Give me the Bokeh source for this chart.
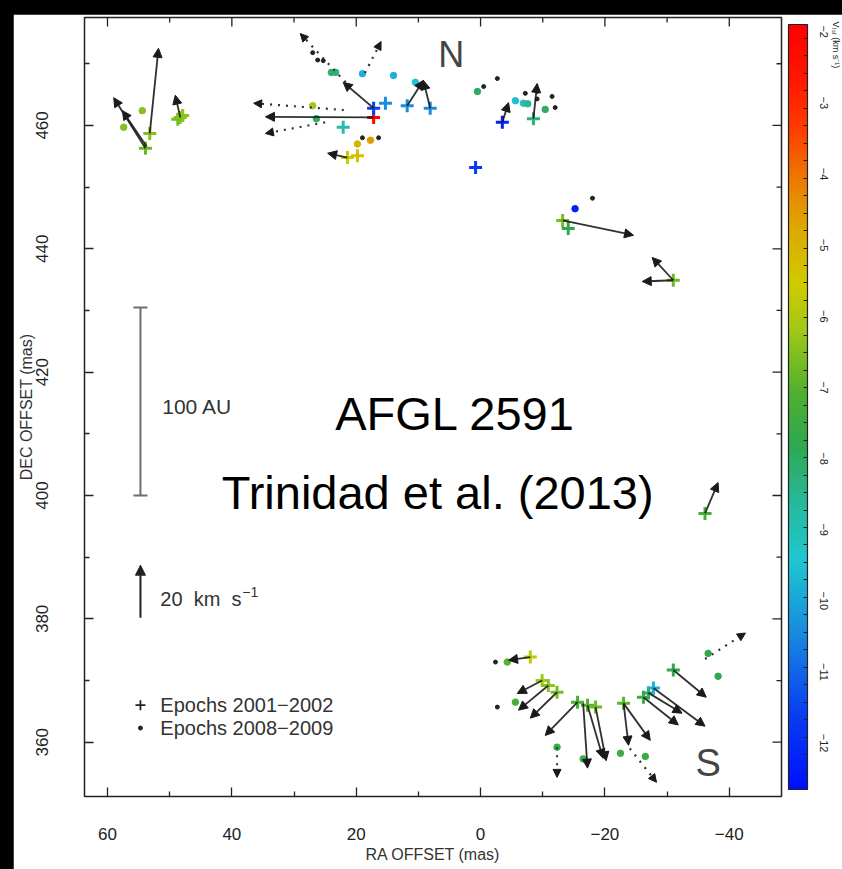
import numpy as np
from bokeh.plotting import figure
from bokeh.models import (Range1d, LinearAxis, FixedTicker, ColorBar,
                          LinearColorMapper, ColumnDataSource, Arrow, NormalHead, Whisker,
                          TeeHead, Label, Title)
from bokeh.layouts import column
from bokeh.embed import file_html
from bokeh.resources import INLINE

# ---------------- data ----------------
# epoch 2001-2002 maser spots (crosses): RA offset, DEC offset (mas), V_LSR (km/s)
cross_ra = [53.9, 53.2, 48.3, 48.7, 47.9,
            17.2, 17.2, 15.3, 11.8, 8.1, 22.1, 21.4, 19.8,
            -3.5, 0.8, -8.5,
            -13.2, -14.1, -31.0, -36.1,
            -8.0, -9.9, -10.9, -12.3, -15.6, -17.2, -18.5,
            -23.0, -26.2, -27.0, -27.8, -31.0]
cross_dec = [456.3, 458.7, 461.3, 461.0, 461.6,
             461.3, 462.8, 463.6, 463.2, 462.8, 459.7, 454.8, 455.1,
             460.5, 453.2, 461.1,
             444.6, 443.3, 434.9, 397.1,
             373.8, 370.0, 369.2, 368.1, 366.5, 366.0, 365.7,
             366.3, 367.3, 368.0, 368.8, 371.7]
cross_v = [-6.8, -6.5, -6.5, -6.6, -6.4,
           -2.0, -11.6, -10.4, -10.4, -10.5, -8.9, -5.6, -5.3,
           -12.4, -11.8, -8.3,
           -6.6, -7.8, -6.7, -7.3,
           -5.8, -6.2, -6.4, -6.6, -7.2, -7.0, -6.7,
           -6.9, -7.5, -8.0, -9.8, -7.8]

# epoch 2008-2009 maser spots (coloured dots)
dot_ra = [54.4, 57.4, 19.0, 14.0, 10.5, 23.3, 24.0, 27.0, 26.4, 19.8, 17.7,
          0.5, -5.6, -6.9, -7.6, -10.4, -15.2,
          -4.3, -5.6, -12.3, -16.5, -22.5, -26.5, -36.6, -38.2]
dot_dec = [462.4, 459.7, 468.4, 468.1, 467.0, 468.6, 468.6, 463.2, 461.1, 457.0, 457.6,
           465.5, 464.0, 463.6, 463.5, 462.6, 446.5,
           373.0, 366.5, 359.2, 357.3, 358.2, 357.7, 374.4, 370.7]
dot_v = [-6.5, -6.5, -9.8, -9.8, -9.5, -8.3, -8.2, -6.2, -8.0, -5.0, -4.5,
         -8.0, -9.6, -9.0, -8.6, -8.0, -12.4,
         -7.0, -7.2, -7.6, -7.5, -7.5, -7.6, -7.8, -7.8]

# small black dots (features without measured motion)
blk_ra = [25.3, 26.2, 27.0, 19.0, 16.4, -0.5, -2.7, -7.2, -11.5, -12.0,
          -9.1, -9.1, 0.8, -18.0, -2.4, -2.7]
blk_dec = [470.5, 470.6, 471.8, 458.0, 458.0, 466.3, 467.6, 465.2, 464.7, 462.9,
           465.5, 464.3, 453.2, 448.2, 373.0, 365.7]

# proper-motion arrows: start (RA, DEC) and end (RA, DEC), mas
pm_ra0 = [53.9, 53.7, 53.2, 48.3, 17.2, 17.2, 11.8, 8.1, 21.4,
          -3.5, -8.5, -13.2, -31.0, -31.0, -36.1,
          -8.0, -9.9, -10.9, -12.3, -15.6, -16.5, -17.2, -18.5,
          -23.0, -23.0, -26.2, -27.0, -27.8, -31.0]
pm_dec0 = [456.3, 456.6, 458.7, 461.3, 461.3, 462.8, 463.2, 462.8, 454.8,
           460.5, 461.1, 444.6, 434.9, 434.9, 397.1,
           373.8, 370.0, 369.2, 368.1, 366.5, 366.3, 366.0, 365.7,
           366.3, 366.3, 367.3, 368.0, 368.8, 371.7]
pm_ra1 = [59.0, 57.6, 51.8, 49.1, 34.6, 22.1, 9.2, 9.2, 24.6,
          -4.5, -9.1, -24.6, -26.0, -27.6, -38.2,
          -4.5, -5.9, -6.1, -8.0, -10.4, -17.2, -19.7, -20.2,
          -23.8, -27.3, -31.8, -32.4, -36.1, -36.3]
pm_dec1 = [464.5, 462.4, 472.5, 464.9, 461.4, 467.0, 467.3, 467.3, 455.5,
           463.7, 466.8, 442.2, 434.7, 438.6, 402.1,
           373.3, 367.9, 365.2, 363.9, 361.1, 355.8, 357.4, 357.0,
           359.5, 360.3, 362.8, 364.7, 362.6, 367.3]

# dotted arrows (motions of faint features)
dm_ra0 = [21.7, 18.6, 22.0, 25.0, -12.3, -24.0, -36.1]
dm_dec0 = [467.0, 468.5, 462.5, 460.5, 359.2, 359.0, 373.5]
dm_ra1 = [29.0, 16.0, 36.5, 34.6, -12.3, -28.3, -42.6]
dm_dec1 = [474.9, 473.6, 463.6, 458.7, 354.3, 353.5, 377.7]

# axes and colour scale
ra_lim = (63.7, -48.4)
dec_lim = (351.2, 477.5)
ra_major = [60, 40, 20, 0, -20, -40]
ra_minor = [50, 30, 10, -10, -30]
dec_major = [360, 380, 400, 420, 440, 460]
dec_minor = [370, 390, 410, 430, 450, 470]
v_low, v_high = -12.75, -1.8
cbar_ticks = [-12, -11, -10, -9, -8, -7, -6, -5, -4, -3, -2]

# scale bar (100 AU) and velocity scale (20 km/s)
bar_ra, bar_dec0, bar_dec1 = 54.7, 400.0, 430.5
vel_ra, vel_dec0, vel_dec1 = 54.7, 380.2, 388.7

# ---------------- style ----------------
anch_f = [0.00, 0.10, 0.20, 0.30, 0.38, 0.45, 0.52, 0.60, 0.66, 0.75, 0.81, 0.87, 0.93, 1.00]
anch_c = ["#0010ff", "#0a40f0", "#1888e0", "#20c8d0", "#28b898", "#30a850", "#50b030",
          "#a0c818", "#d0cc00", "#e0a000", "#f07000", "#ff3a00", "#ff1800", "#ff0000"]


def _rgb(h):
    return [int(h[i:i + 2], 16) for i in (1, 3, 5)]


_arr = np.array([_rgb(c) for c in anch_c], dtype=float)
palette = []
for t in np.linspace(0, 1, 256):
    r = np.interp(t, anch_f, _arr[:, 0])
    g = np.interp(t, anch_f, _arr[:, 1])
    b = np.interp(t, anch_f, _arr[:, 2])
    palette.append("#%02x%02x%02x" % (int(r), int(g), int(b)))

mapper = LinearColorMapper(palette=palette, low=v_low, high=v_high)
TICK_FONT = "Liberation Sans"
TEXT_FONT = "Liberation Sans"
INK = "#222222"

p = figure(frame_width=697, frame_height=779,
           x_range=Range1d(*ra_lim), y_range=Range1d(*dec_lim),
           x_axis_location=None, y_axis_location=None,
           output_backend="svg", toolbar_location=None,
           min_border_left=71, min_border_right=61, min_border_top=3, min_border_bottom=73,
           background_fill_color="white", border_fill_color="white",
           outline_line_color=INK, outline_line_width=1.5,
           margin=(14, 0, 0, 13))
p.grid.grid_line_color = None
p.extra_y_ranges = {"cbar": Range1d(v_low, v_high)}

common = dict(axis_line_color=None,
              major_tick_in=9, major_tick_out=0, minor_tick_in=5, minor_tick_out=0,
              major_tick_line_color=INK, minor_tick_line_color=INK,
              major_tick_line_width=1.3, minor_tick_line_width=1.3,
              major_label_text_font=TICK_FONT, major_label_text_font_size="17px",
              major_label_text_color=INK,
              axis_label_text_font=TICK_FONT, axis_label_text_font_size="16px",
              axis_label_text_font_style="normal", axis_label_text_color="#333333")

xb = LinearAxis(ticker=FixedTicker(ticks=ra_major, minor_ticks=ra_minor),
                axis_label="RA OFFSET (mas)",
                major_label_overrides={-20: "\u221220", -40: "\u221240"},
                major_label_standoff=31, axis_label_standoff=3, **common)
p.add_layout(xb, "below")

yl = LinearAxis(ticker=FixedTicker(ticks=dec_major, minor_ticks=dec_minor),
                axis_label="DEC OFFSET (mas)", major_label_orientation="vertical",
                major_label_standoff=36, axis_label_standoff=-1, **common)
p.add_layout(yl, "left")

# mirrored inward ticks on the top and right edges of the frame
p.ray(x=ra_major, y=[dec_lim[1]] * len(ra_major), length=9, length_units="screen",
      angle=-np.pi / 2, line_color=INK, line_width=1.3)
p.ray(x=ra_minor, y=[dec_lim[1]] * len(ra_minor), length=5, length_units="screen",
      angle=-np.pi / 2, line_color=INK, line_width=1.3)
p.ray(x=[ra_lim[1]] * len(dec_major), y=dec_major, length=9, length_units="screen",
      angle=np.pi, line_color=INK, line_width=1.3)
p.ray(x=[ra_lim[1]] * len(dec_minor), y=dec_minor, length=5, length_units="screen",
      angle=np.pi, line_color=INK, line_width=1.3)

minor_cb = [round(v, 2) for v in np.arange(-12.75, -1.79, 0.25)]
cbar = ColorBar(color_mapper=mapper, width=19, padding=7, margin=0,
                ticker=FixedTicker(ticks=[], minor_ticks=minor_cb),
                label_standoff=0,
                major_tick_in=0, major_tick_out=0, minor_tick_in=4, minor_tick_out=0,
                minor_tick_line_color=INK, minor_tick_line_width=1.2,
                bar_line_color=INK, bar_line_width=1.2,
                background_fill_color=None, border_line_color=None)
p.add_layout(cbar, "right")

cax = LinearAxis(y_range_name="cbar", ticker=FixedTicker(ticks=cbar_ticks),
                 major_label_overrides={t: "\u2212%d" % (-t) for t in cbar_ticks},
                 major_label_orientation="vertical", axis_line_color=None,
                 major_tick_line_color=None, minor_tick_line_color=None,
                 major_tick_in=0, major_tick_out=0, minor_tick_in=0, minor_tick_out=0,
                 major_label_standoff=5, major_label_text_font=TICK_FONT,
                 major_label_text_font_size="11px", major_label_text_color=INK)
p.add_layout(cax, "right")

p.add_layout(Title(text="V\u2097\u209b\u1d63 (km s\u207b\u00b9)", align="left",
                   text_font=TICK_FONT, text_font_size="9px", text_font_style="normal",
                   text_color=INK, standoff=0, offset=4), "right")

# ---------------- glyphs ----------------
src_pm = ColumnDataSource(dict(x0=pm_ra0, y0=pm_dec0, x1=pm_ra1, y1=pm_dec1))
p.add_layout(Arrow(source=src_pm, x_start="x0", y_start="y0", x_end="x1", y_end="y1",
                   line_color="#1a1a1a", line_width=1.8, line_alpha=0.9,
                   end=NormalHead(size=9, fill_color="#1a1a1a", line_color="#1a1a1a")))
src_dm = ColumnDataSource(dict(x0=dm_ra0, y0=dm_dec0, x1=dm_ra1, y1=dm_dec1))
p.add_layout(Arrow(source=src_dm, x_start="x0", y_start="y0", x_end="x1", y_end="y1",
                   line_color="#333333", line_width=2.2, line_dash="2 6",
                   end=NormalHead(size=8, fill_color="#1a1a1a", line_color="#1a1a1a")))

p.scatter(blk_ra, blk_dec, marker="circle", size=4, color="#222222")

src_dot = ColumnDataSource(dict(x=dot_ra, y=dot_dec, v=dot_v))
p.scatter("x", "y", source=src_dot, marker="circle", size=6.5,
          fill_color={"field": "v", "transform": mapper},
          line_color={"field": "v", "transform": mapper})

src_cross = ColumnDataSource(dict(x=cross_ra, y=cross_dec, v=cross_v))
p.scatter("x", "y", source=src_cross, marker="cross", size=13, line_width=3,
          line_color={"field": "v", "transform": mapper})

# scale bar and velocity scale
p.add_layout(Whisker(source=ColumnDataSource(dict(b=[bar_ra], lo=[bar_dec0], up=[bar_dec1])),
                     base="b", lower="lo", upper="up", dimension="height",
                     line_color="#6e6e6e", line_width=2,
                     upper_head=TeeHead(size=14, line_color="#6e6e6e", line_width=2),
                     lower_head=TeeHead(size=14, line_color="#6e6e6e", line_width=2)))
p.add_layout(Arrow(x_start=vel_ra, y_start=vel_dec0, x_end=vel_ra, y_end=vel_dec1,
                   line_color="#222222", line_width=2,
                   end=NormalHead(size=10, fill_color="#222222", line_color="#222222")))

# legend markers
p.scatter([54.7], [366.0], marker="cross", size=10, line_width=1.8, line_color="#222222")
p.scatter([54.7], [362.3], marker="circle", size=4, color="#222222")


def lab(x, y, text, size, font=TEXT_FONT, color="#333333", align="left", angle=0.0,
        dx=0, dy=0):
    p.add_layout(Label(x=x, y=y, text=text, text_font=font, text_font_size=size,
                       text_color=color, text_align=align, text_baseline="middle",
                       angle=angle, x_offset=dx, y_offset=dy))


lab(51.2, 414.5, "100 AU", "21px")
lab(51.5, 383.3, "20 \u00a0km \u00a0s", "20px")
lab(51.5, 383.3, "\u22121", "14px", dx=82, dy=7)
lab(51.5, 366.0, "Epochs 2001\u22122002", "20px")
lab(51.5, 362.3, "Epochs 2008\u22122009", "20px")
lab(4.05, 413.3, "AFGL 2591", "47px", color="#000000", align="center")
lab(6.9, 400.5, "Trinidad et al. (2013)", "47px", color="#000000", align="center")
lab(4.7, 471.5, "N", "36px", color="#444444", align="center")
lab(-36.6, 356.6, "S", "38px", color="#444444", align="center")

# ---------------- page ----------------
layout = column(p, styles={"background-color": "black"})

open("out.html", "w").write(file_html(layout, INLINE))
